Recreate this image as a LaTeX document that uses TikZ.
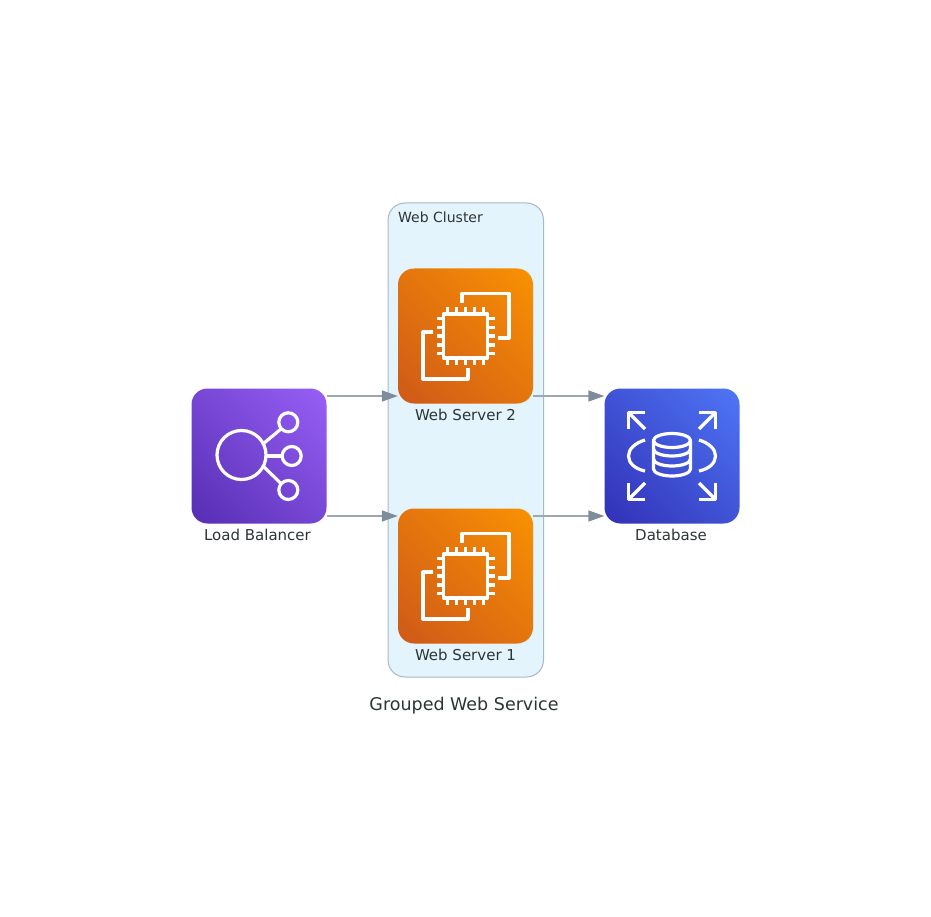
\documentclass[tikz,border=0pt]{standalone}
\usepackage{fontspec}
\setmainfont{DejaVu Sans}
\usetikzlibrary{arrows.meta, positioning, calc}
\definecolor{computedark}{HTML}{C8511B}
\definecolor{computelight}{HTML}{FF9900}
\definecolor{networkdark}{HTML}{4D27AA}
\definecolor{networklight}{HTML}{A166FF}
\definecolor{dbdark}{HTML}{2E27AD}
\definecolor{dblight}{HTML}{527FFF}
\definecolor{clusterfill}{HTML}{E3F4FC}
\definecolor{clusterline}{HTML}{A9B8C8}
\definecolor{flowgray}{HTML}{7F8C99}
\definecolor{flowline}{HTML}{9BA7B1}
\definecolor{textdark}{HTML}{2D3436}
\pgfdeclareverticalshading{computeshade}{100bp}{color(0bp)=(computedark); color(5bp)=(computedark); color(95bp)=(computelight); color(100bp)=(computelight)}
\pgfdeclareverticalshading{networkshade}{100bp}{color(0bp)=(networkdark); color(5bp)=(networkdark); color(95bp)=(networklight); color(100bp)=(networklight)}
\pgfdeclareverticalshading{dbshade}{100bp}{color(0bp)=(dbdark); color(5bp)=(dbdark); color(95bp)=(dblight); color(100bp)=(dblight)}
\tikzset{
    iconbox/.style={
        rounded corners=16pt,
        minimum size=135pt,
        inner sep=0pt,
        shading=#1,
        shading angle=-45
    },
    iconlabel/.style={
        text=textdark,
        inner sep=0pt,
        font=\fontsize{15}{18}\selectfont
    },
    iconline/.style={white, line width=3.2pt, line join=round},
    flow/.style={
        -{Triangle[length=16pt, width=11pt, color=flowgray]},
        flowline,
        line width=1.6pt
    },
    % EC2 chip with its two back panels
    pics/chipicon/.style={code={
        \draw[iconline] (-3.5,-33) -- (-3.5,-42.5) -- (43.5,-42.5) -- (43.5,2) -- (32.5,2);
        \draw[iconline] (2.5,32) -- (2.5,43) -- (-42.5,43) -- (-42.5,-4) -- (-32.5,-4);
        \draw[iconline] (-22,-22) rectangle (22,22);
        \foreach \i in {-2,-1,0,1,2} {
            \draw[iconline] (\i*8.9,-22) -- (\i*8.9,-29);
            \draw[iconline] (\i*8.9,22) -- (\i*8.9,29);
            \draw[iconline] (-22,\i*8.9) -- (-29,\i*8.9);
            \draw[iconline] (22,\i*8.9) -- (29,\i*8.9);
        }
    }},
    % hub with three spokes
    pics/hubicon/.style={code={
        \draw[iconline] (-17.5,-1) circle (24.5);
        \draw[iconline] (29.3,-33.7) circle (9.5);
        \draw[iconline] (32.7,0) circle (9.5);
        \draw[iconline] (29.3,34) circle (9.5);
        \draw[iconline] (4.5,-12.5) -- (22,-27);
        \draw[iconline] (7,0) -- (23.2,0);
        \draw[iconline] (4.5,10.5) -- (22,27.5);
    }},
    % database drum, rings and corner arrows
    pics/drumicon/.style={code={
        \draw[iconline] (0,-15.5) ellipse (18.5 and 7);
        \draw[iconline] (-18.5,-15.5) -- (-18.5,13) arc[start angle=180, end angle=0, x radius=18.5, y radius=7] -- (18.5,-15.5);
        \draw[iconline] (-18.5,-7) arc[start angle=180, end angle=0, x radius=18.5, y radius=7];
        \draw[iconline] (-18.5,3) arc[start angle=180, end angle=0, x radius=18.5, y radius=7];
        \draw[iconline] (-27,-16) .. controls (-37,-13) and (-43.5,-7) .. (-43.5,0) .. controls (-43.5,7) and (-37,13) .. (-27,15);
        \draw[iconline] (27,-16) .. controls (37,-13) and (43.5,-7) .. (43.5,0) .. controls (43.5,7) and (37,13) .. (27,15);
        \foreach \sx/\sy in {-1/-1, 1/-1, -1/1, 1/1} {
            \draw[iconline] (\sx*27,\sy*43.5) -- (\sx*43.5,\sy*43.5) -- (\sx*43.5,\sy*27);
            \draw[iconline] (\sx*27,\sy*27) -- (\sx*43,\sy*43);
        }
    }}
}

\begin{document}
\begin{tikzpicture}[x=1pt, y=-1pt]
    \useasboundingbox (0,0) rectangle (931,917);

    % Cluster box
    \node[
        fill=clusterfill,
        draw=clusterline,
        line width=1pt,
        rounded corners=17pt,
        minimum width=155.5pt,
        minimum height=474pt
    ] (cluster) at (465.75,440) {};
    \node[iconlabel, anchor=west, font=\fontsize{14}{17}\selectfont] (clustertitle) at (398,217) {Web Cluster};

    % Icons
    \node[iconbox=networkshade] (balancer) at (259,456) {};
    \node[iconbox=computeshade] (webtwo) at (465.5,336) {};
    \node[iconbox=computeshade] (webone) at (465.5,576) {};
    \node[iconbox=dbshade] (database) at (672,456) {};

    \pic at (balancer.center) {hubicon};
    \pic at (webtwo.center) {chipicon};
    \pic at (webone.center) {chipicon};
    \pic at (database.center) {drumicon};

    % Labels
    \node[iconlabel] (balancertext) at (257.5,535) {Load Balancer};
    \node[iconlabel] (webtwotext) at (465.5,415) {Web Server 2};
    \node[iconlabel] (webonetext) at (465.5,655) {Web Server 1};
    \node[iconlabel] (databasetext) at (671,535) {Database};

    % Flows
    \draw[flow] ([yshift=60pt]balancer.east) -- ([yshift=-60pt]webtwo.west);
    \draw[flow] ([yshift=-60pt]balancer.east) -- ([yshift=60pt]webone.west);
    \draw[flow] ([yshift=-60pt]webtwo.east) -- ([yshift=60pt]database.west);
    \draw[flow] ([yshift=60pt]webone.east) -- ([yshift=-60pt]database.west);

    % Title
    \node[iconlabel, font=\fontsize{17.5}{21}\selectfont] (title) at (464,706) {Grouped Web Service};
\end{tikzpicture}
\end{document}
